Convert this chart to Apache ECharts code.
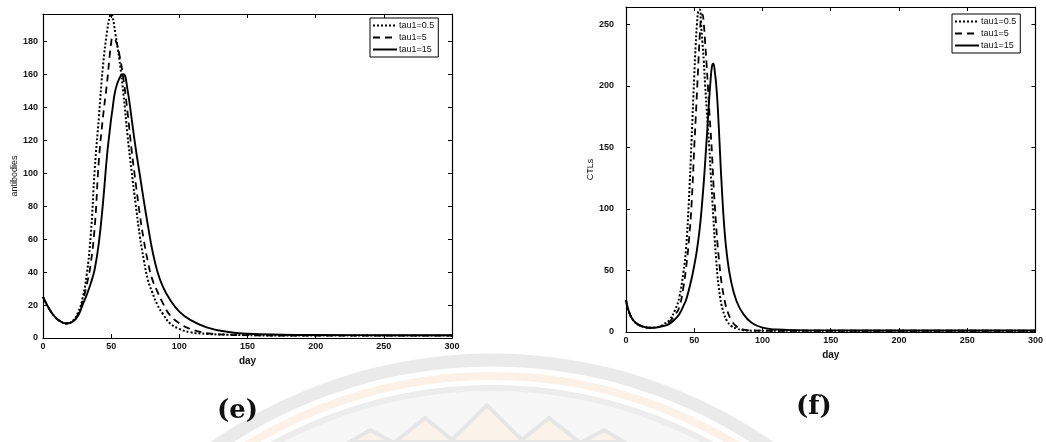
<!DOCTYPE html>
<html><head><meta charset="utf-8">
<script src="https://cdn.jsdelivr.net/npm/echarts@6/dist/echarts.min.js"></script>
<style>html,body{margin:0;padding:0;background:#fff}#c{width:1046px;height:442px}</style>
</head><body><div id="c"></div>
<script>
// ---- data: panel (e) antibodies ----
const daysE = [0,4,8,12,17,22,26,29,32,35,38,41,44,47,49,50,51,53,56,59,62,65,68,71,74,77,80,84,88,93,100,108,120,135,150,175,200,250,300];
const abTau05 = [25,18.5,13.5,10.5,8.8,10.5,16,24,38,62,103,134,165,186,195,196.5,195,185,169,148,123,101,81,62,47,35,28,20,14.5,9,5.5,3.5,2.5,2,1.7,1.5,1.5,1.5,1.5];
const abTau5  = [25,18.5,13.5,10.5,8.8,10.2,15,22,32,45,68,108,134,155,172,179,182,181,172,157,137,114,94,75,59,46,36,28,21,14,9,5.5,3,2,1.7,1.5,1.5,1.5,1.5];
const abTau15 = [25,18.5,13.5,10.5,8.8,10,14,20,26,33,42,58,82,111,126,133,139,150,157.5,160,150.5,133,115,99,83,68,54,40,31,23.5,16,11,6.5,3.8,2.6,2,1.8,1.7,1.7];
// ---- data: panel (f) CTLs ----
const daysF = [0,2,5,9,13,18,23,28,32,36,39,42,44,46,48,50,51,52,53,54,55,56,57,58,59,60,61,62,63,64,65,66,67,68,69,70,72,74,77,81,86,92,100,110,125,150,200,250,300];
const ctlTau05 = [26,17,10,6,4.2,3.4,3.9,6.5,10,18,28,48,68,105,155,208,232,250,261,262,250,235,220,200,183,166,150,130,112,93,75,60,46,36,28,22,14,9,5,2.8,1.5,1.1,1,1,1,1,1,1,1];
const ctlTau5  = [26,17,10,6,4.2,3.4,3.8,5.8,8.5,14,20,36,52,73,103,150,172,195,218,240,255,258,250,235,218,200,180,163,145,122,104,87,72,60,49,40,27,18,10,4.5,2,1.3,1.1,1,1,1,1,1,1];
const ctlTau15 = [26,17,10,6,4.2,3.4,3.8,5,6.8,10.5,14.5,21,26,34,43,54,60,67,75,84,95,108,122,138,155,172,190,205,216,218,212,202,187,166,143,121,85,62,41,25,14.5,7.5,3.5,2,1.5,1.3,1.2,1.2,1.2];
const seriesNames = ['tau1=0.5','tau1=5','tau1=15'];

const pair = (xs, ys) => xs.map((x,i)=>[x, ys[i]]);
const chart = echarts.init(document.getElementById('c'), null, {renderer:'canvas'});
const FONT = 'Liberation Sans';
const lbl = {color:'#111', fontSize:9, fontWeight:'bold', fontFamily:FONT};
function xAx(g, pos){
  return {gridIndex:g, type:'value', min:0, max:300, interval:50, position:pos,
    name: pos==='bottom' ? 'day' : '', nameLocation:'middle', nameGap:17,
    nameTextStyle:{color:'#111', fontSize:10, fontWeight:'bold', fontFamily:FONT},
    axisLine:{show:true, onZero:false, lineStyle:{color:'#000', width:1.2}},
    axisTick:{show:true, inside:true, length:4, lineStyle:{color:'#000'}},
    axisLabel:{show: pos==='bottom', margin:4, ...lbl},
    splitLine:{show:false}};
}
function yAx(g, pos, max, step, name, gap, margin){
  return {gridIndex:g, type:'value', min:0, max:max, interval:step, position:pos,
    name: pos==='left' ? name : '', nameLocation:'middle', nameGap:gap,
    nameTextStyle:{color:'#111', fontSize:9, fontFamily:FONT},
    axisLine:{show:true, onZero:false, lineStyle:{color:'#000', width:1.2}},
    axisTick:{show:true, inside:true, length:4, lineStyle:{color:'#000'}},
    axisLabel:{show: pos==='left', margin:margin, ...lbl,
      formatter: v => (Math.abs(v/step - Math.round(v/step))<1e-6) ? String(v) : ''},
    splitLine:{show:false}};
}
const styles = [
  {type:[2,2], width:2},
  {type:[7,5], width:1.8},
  {type:'solid', width:1.9}
];
function mk(name, data, xi, yi, k){
  return {name, type:'line', xAxisIndex:xi, yAxisIndex:yi, data, showSymbol:false, symbol:'none',
    smooth:0.45, clip:true,
    lineStyle:{color:'#000', width:styles[k].width, type:styles[k].type}, itemStyle:{color:'#000'}};
}
function legendAt(left, top){
  return {left, top, orient:'vertical', data:seriesNames, itemWidth:24, itemHeight:8, itemGap:3,
    padding:[3,4,3,2], borderColor:'#000', borderWidth:1, backgroundColor:'#fff',
    itemStyle:{opacity:0, borderWidth:0},
    textStyle:{color:'#111', fontSize:9, fontFamily:FONT, padding:[0,0,0,-3]}, selectedMode:false};
}
// watermark (faint circular emblem)
const wm = [];
const cx = 492, cy = 845;
wm.push({type:'circle', shape:{cx, cy, r:485}, style:{fill:'none', stroke:'#eaeaea', lineWidth:13}, z:-10, silent:true});
wm.push({type:'circle', shape:{cx, cy, r:469}, style:{fill:'none', stroke:'#fcf1e7', lineWidth:8}, z:-10, silent:true});
wm.push({type:'circle', shape:{cx, cy, r:457}, style:{fill:'#f7f7f7', stroke:'#ededed', lineWidth:6}, z:-10, silent:true});
const petals = [[487,405,450,442,524,442],[425,418,395,442,455,442],[549,418,519,442,579,442],[370,430,350,442,392,442],[604,430,582,442,624,442]];
petals.forEach(p=>{
  wm.push({type:'polygon', shape:{points:[[p[2],p[3]],[p[0],p[1]],[p[4],p[5]]]}, style:{fill:'#fbf2ea', stroke:'#e6e6e6', lineWidth:4}, z:-9, silent:true});
});
chart.setOption({
  backgroundColor:'#fff',
  animation:false,
  grid:[{left:43, top:14, width:409, height:324}, {left:626, top:7, width:412, height:325}],
  xAxis:[xAx(0,'bottom'), xAx(0,'top'), xAx(1,'bottom'), xAx(1,'top')],
  yAxis:[yAx(0,'left',196.5,20,'antibodies',21,5), yAx(0,'right',196.5,20,'',0,5),
         yAx(1,'left',264,50,'CTLs',23,12), yAx(1,'right',264,50,'',0,12)],
  legend:[legendAt(370,18), legendAt(952,14)],
  series:[
    mk(seriesNames[0], pair(daysE, abTau05), 0, 0, 0),
    mk(seriesNames[1], pair(daysE, abTau5), 0, 0, 1),
    mk(seriesNames[2], pair(daysE, abTau15), 0, 0, 2),
    mk(seriesNames[0], pair(daysF, ctlTau05), 2, 2, 0),
    mk(seriesNames[1], pair(daysF, ctlTau5), 2, 2, 1),
    mk(seriesNames[2], pair(daysF, ctlTau15), 2, 2, 2)
  ],
  graphic: wm.concat([
    {type:'text', left:217, top:398, style:{text:'(e)', font:'bold 26px "DejaVu Serif"', fill:'#111'}, z:10},
    {type:'text', left:796, top:394, style:{text:'(f)', font:'bold 26px "DejaVu Serif"', fill:'#111'}, z:10}
  ])
});
</script></body></html>
